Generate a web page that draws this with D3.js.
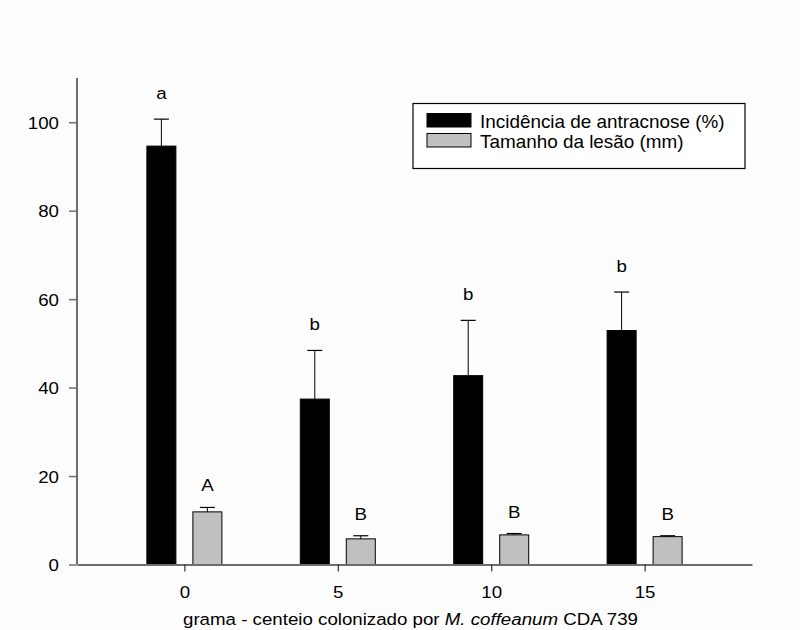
<!DOCTYPE html>
<html>
<head>
<meta charset="utf-8">
<script src="https://cdn.jsdelivr.net/npm/d3@7"></script>
<style>
  html, body { margin: 0; padding: 0; background: #ffffff; }
  svg { display: block; font-family: "Liberation Sans", Arial, sans-serif; }
</style>
</head>
<body>
<svg id="chart" width="800" height="630"></svg>
<script>
// ---- data ----
const categories = [0, 5, 10, 15];
const incidence = [94.6, 37.4, 42.7, 52.9];
const incidenceErr = [6.1, 11.0, 12.5, 8.7];
const incidenceLetters = ["a", "b", "b", "b"];
const lesion = [11.9, 5.8, 6.7, 6.3];
const lesionErr = [1.0, 0.7, 0.3, 0.2];
const lesionLetters = ["A", "B", "B", "B"];
const yTicks = [0, 20, 40, 60, 80, 100];
const seriesNames = ["Incidência de antracnose (%)", "Tamanho da lesão (mm)"];
const seriesColors = ["#000000", "#c0c0c0"];

// ---- layout ----
const svg = d3.select("#chart");
const pLeft = 77, pRight = 752, pTop = 78, pBottom = 564.5;
const SX = 1.1; // horizontal stretch of the text in the reference
const x = d3.scaleLinear().domain([-3.5, 18.5]).range([pLeft, pRight]);
const y = d3.scaleLinear().domain([0, 110]).range([pBottom, pTop]);
const barW = 29, offs = 23;
const axisColor = "#6e6e6e";

svg.append("rect").attr("width", 800).attr("height", 630).attr("fill", "#fdfdfd");

function stretchedText(g, txt, px, py, anchor, size, sx) {
  return g.append("text")
    .attr("transform", `translate(${px},${py}) scale(${sx || SX},1)`)
    .attr("text-anchor", anchor)
    .attr("font-size", size)
    .attr("fill", "#000")
    .text(txt);
}

// ---- bars ----
const series = [
  { vals: incidence, err: incidenceErr, letters: incidenceLetters, dx: -offs, color: seriesColors[0], labOff: 20 },
  { vals: lesion, err: lesionErr, letters: lesionLetters, dx: offs, color: seriesColors[1], labOff: 16 }
];
const gBars = svg.append("g");
series.forEach(s => {
  categories.forEach((c, i) => {
    const cx = x(c) + s.dx;
    gBars.append("rect")
      .attr("x", cx - barW / 2).attr("width", barW)
      .attr("y", y(s.vals[i])).attr("height", y(0) - y(s.vals[i]))
      .attr("fill", s.color).attr("stroke", "#000").attr("stroke-width", 1);
    const et = y(s.vals[i] + s.err[i]);
    gBars.append("line").attr("x1", cx).attr("x2", cx)
      .attr("y1", y(s.vals[i])).attr("y2", et).attr("stroke", "#000").attr("stroke-width", 1);
    gBars.append("line").attr("x1", cx - 7.5).attr("x2", cx + 7.5)
      .attr("y1", et).attr("y2", et).attr("stroke", "#000").attr("stroke-width", 1.2);
    stretchedText(gBars, s.letters[i], cx, et - s.labOff, "middle", 17);
  });
});

// ---- axes ----
const yAxis = d3.axisLeft(y).tickValues(yTicks).tickSize(8).tickSizeOuter(0).tickFormat(d3.format("d"));
const gy = svg.append("g").attr("transform", `translate(${pLeft},0)`).call(yAxis);
gy.select(".domain").attr("stroke", axisColor).attr("stroke-width", 2).attr("d", `M0,${pBottom}V${pTop}`);
gy.selectAll(".tick line").attr("stroke", axisColor).attr("stroke-width", 1.5);
gy.selectAll(".tick text")
  .attr("x", null).attr("dy", null)
  .attr("transform", "translate(-18,6) scale(1.1,1)")
  .attr("font-size", 17).attr("font-family", "Liberation Sans, Arial, sans-serif").attr("fill", "#000");

const xAxis = d3.axisBottom(x).tickValues(categories).tickSize(7).tickSizeOuter(0).tickFormat(d3.format("d"));
const gx = svg.append("g").attr("transform", `translate(0,${pBottom})`).call(xAxis);
gx.select(".domain").attr("stroke", axisColor).attr("stroke-width", 2);
gx.selectAll(".tick line").attr("stroke", "#333").attr("stroke-width", 1.2);
gx.selectAll(".tick text")
  .attr("y", null).attr("dy", null)
  .attr("transform", "translate(0,33.5) scale(1.1,1)")
  .attr("font-size", 17).attr("font-family", "Liberation Sans, Arial, sans-serif").attr("fill", "#000");

// x axis title
const xt = svg.append("text")
  .attr("transform", `translate(${(pLeft + pRight) / 2 - 4},624.5) scale(${SX},1)`)
  .attr("text-anchor", "middle").attr("font-size", 17).attr("fill", "#000");
xt.append("tspan").text("grama - centeio colonizado por ");
xt.append("tspan").attr("font-style", "italic").text("M. coffeanum");
xt.append("tspan").text(" CDA 739");

// ---- legend ----
const lg = svg.append("g");
lg.append("rect").attr("x", 413).attr("y", 103.5).attr("width", 332).attr("height", 65)
  .attr("fill", "#ffffff").attr("stroke", "#000").attr("stroke-width", 1.2);
seriesNames.forEach((n, i) => {
  const ry = 113.5 + i * 20;
  lg.append("rect").attr("x", 427).attr("y", ry).attr("width", 44).attr("height", 13.5)
    .attr("fill", seriesColors[i]).attr("stroke", "#000").attr("stroke-width", 1);
  stretchedText(lg, n, 480, ry + 14.5, "start", 18, 1.05);
});
</script>
</body>
</html>
